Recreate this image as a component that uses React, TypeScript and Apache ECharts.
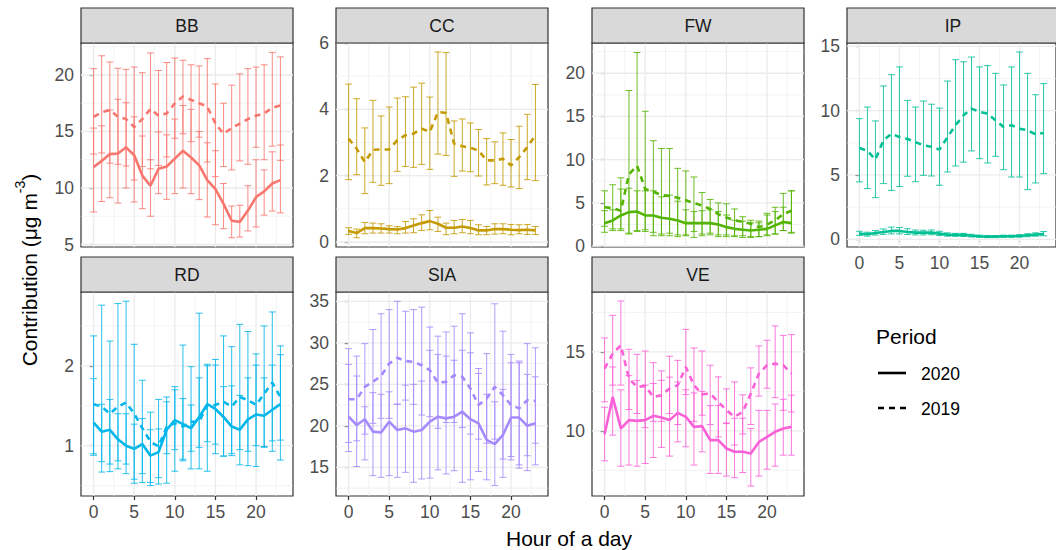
import React, { useEffect, useRef } from "react";
import * as echarts from "echarts";

// ---------- data ----------
const HOURS = [0, 1, 2, 3, 4, 5, 6, 7, 8, 9, 10, 11, 12, 13, 14, 15, 16, 17, 18, 19, 20, 21, 22, 23];
const X_TICKS = [0, 5, 10, 15, 20];
const X_MINOR = [2.5, 7.5, 12.5, 17.5, 22.5];

// BB
const BB_2020 = [11.86, 12.4, 13.0, 13.05, 13.6, 12.9, 11.1, 10.2, 11.7, 11.9, 12.6, 13.3, 12.7, 12.0, 10.7, 9.9, 8.6, 7.1, 7.0, 8.0, 9.2, 9.7, 10.4, 10.7];
const BB_2020_LO = [7.88, 8.8, 9.14, 8.67, 10.0, 8.76, 8.17, 7.5, 9.5, 9.0, 9.5, 10.0, 9.5, 8.97, 7.43, 6.75, 6.4, 5.6, 5.66, 6.2, 6.55, 7.6, 7.96, 7.8];
const BB_2020_HI = [15.3, 15.5, 16.9, 17.85, 17.55, 16.3, 14.6, 12.5, 14.96, 14.7, 16.1, 17.3, 16.96, 15.0, 14.0, 13.3, 10.4, 8.4, 8.47, 10.2, 12.5, 11.6, 13.2, 13.8];
const BB_2019 = [16.3, 16.7, 16.9, 16.3, 16.1, 15.4, 16.1, 17.0, 16.4, 16.6, 17.5, 18.1, 17.8, 17.5, 17.2, 15.7, 14.8, 15.3, 15.7, 16.1, 16.4, 16.6, 17.1, 17.3];
const BB_2019_LO = [13.0, 13.1, 12.2, 12.1, 11.95, 10.7, 11.9, 11.7, 12.0, 12.75, 14.4, 14.8, 14.1, 14.5, 12.3, 11.0, 11.9, 11.6, 12.4, 12.1, 13.6, 12.5, 13.7, 12.45];
const BB_2019_HI = [20.56, 21.7, 21.15, 20.6, 20.5, 20.7, 20.2, 21.95, 20.4, 21.1, 21.5, 21.3, 20.9, 20.8, 21.45, 19.2, 17.5, 19.1, 20.1, 20.56, 20.7, 20.9, 22.0, 21.6];

// CC
const CC_2020 = [0.33, 0.27, 0.42, 0.42, 0.41, 0.39, 0.38, 0.42, 0.5, 0.57, 0.63, 0.55, 0.43, 0.43, 0.47, 0.42, 0.35, 0.35, 0.39, 0.39, 0.37, 0.36, 0.37, 0.35];
const CC_2020_LO = [0.23, 0.13, 0.25, 0.27, 0.27, 0.27, 0.25, 0.27, 0.28, 0.35, 0.37, 0.32, 0.22, 0.25, 0.28, 0.25, 0.22, 0.22, 0.24, 0.25, 0.22, 0.25, 0.23, 0.23];
const CC_2020_HI = [0.43, 0.39, 0.59, 0.57, 0.55, 0.49, 0.47, 0.62, 0.7, 0.82, 0.95, 0.75, 0.57, 0.65, 0.68, 0.65, 0.52, 0.47, 0.55, 0.55, 0.53, 0.52, 0.53, 0.47];
const CC_2019 = [3.12, 2.81, 2.41, 2.78, 2.79, 2.79, 3.07, 3.22, 3.27, 3.42, 3.32, 3.92, 3.89, 2.96, 2.89, 2.84, 2.76, 2.46, 2.46, 2.51, 2.31, 2.56, 2.86, 3.22];
const CC_2019_LO = [1.88, 2.03, 1.46, 1.8, 1.71, 1.76, 2.13, 2.28, 2.25, 2.34, 2.19, 2.65, 2.61, 1.98, 2.14, 2.12, 1.99, 1.72, 1.76, 1.71, 1.66, 1.61, 1.88, 1.85];
const CC_2019_HI = [4.76, 4.32, 3.44, 4.27, 3.8, 4.07, 4.34, 4.38, 4.67, 4.79, 4.37, 5.73, 5.71, 3.65, 3.71, 3.59, 3.39, 3.12, 3.02, 3.29, 3.09, 3.49, 3.85, 4.75];

// FW
const FW_2020 = [2.66, 2.97, 3.55, 3.93, 4.0, 3.55, 3.55, 3.28, 3.16, 2.97, 2.66, 2.66, 2.66, 2.66, 2.5, 2.2, 2.0, 1.9, 1.8, 1.9, 2.0, 2.4, 2.8, 2.66];
const FW_2020_LO = [1.6, 1.8, 2.0, 1.5, 1.7, 1.9, 1.2, 1.2, 1.2, 1.1, 1.3, 1.0, 1.2, 1.3, 1.1, 1.1, 1.1, 1.0, 1.0, 1.1, 1.2, 1.4, 1.8, 1.5];
const FW_2020_HI = [4.1, 4.2, 6.6, 6.7, 6.4, 6.4, 6.4, 5.7, 5.9, 5.2, 4.2, 4.0, 4.1, 4.2, 4.0, 3.6, 3.0, 2.9, 2.7, 2.7, 3.6, 4.0, 4.5, 6.4];
const FW_2019 = [4.5, 4.4, 4.1, 8.3, 9.3, 6.6, 6.3, 5.9, 5.8, 5.6, 5.3, 5.0, 4.7, 4.3, 3.7, 3.3, 3.0, 2.8, 2.6, 2.2, 2.5, 3.0, 3.7, 4.1];
const FW_2019_LO = [2.3, 2.0, 1.8, 1.4, 1.8, 1.7, 1.6, 1.4, 1.5, 1.3, 1.2, 1.7, 1.4, 1.5, 1.3, 1.3, 1.2, 1.2, 1.1, 1.1, 1.3, 1.4, 1.8, 1.6];
const FW_2019_HI = [6.4, 7.1, 7.9, 18.0, 22.4, 15.6, 12.2, 11.3, 11.3, 9.0, 8.7, 8.0, 6.2, 5.4, 5.0, 4.9, 4.3, 3.4, 3.0, 2.9, 3.8, 4.5, 6.1, 6.4];

// IP
const IP_2020 = [0.44, 0.39, 0.49, 0.57, 0.65, 0.65, 0.57, 0.52, 0.52, 0.52, 0.44, 0.36, 0.34, 0.34, 0.28, 0.23, 0.21, 0.21, 0.23, 0.23, 0.26, 0.31, 0.36, 0.41];
const IP_2020_LO = [0.3, 0.25, 0.33, 0.38, 0.42, 0.42, 0.37, 0.34, 0.34, 0.35, 0.29, 0.24, 0.23, 0.22, 0.18, 0.15, 0.13, 0.13, 0.15, 0.15, 0.17, 0.2, 0.24, 0.27];
const IP_2020_HI = [0.62, 0.55, 0.68, 0.8, 0.95, 0.92, 0.82, 0.72, 0.7, 0.72, 0.62, 0.5, 0.46, 0.46, 0.39, 0.32, 0.29, 0.29, 0.32, 0.32, 0.36, 0.43, 0.5, 0.6];
const IP_2019 = [7.1, 6.87, 6.2, 7.7, 8.2, 7.95, 7.8, 7.56, 7.3, 7.2, 6.97, 7.95, 8.86, 9.64, 10.16, 9.9, 9.77, 9.25, 8.73, 8.86, 8.6, 8.47, 8.16, 8.26];
const IP_2019_LO = [4.46, 3.94, 3.24, 4.33, 3.8, 4.1, 4.9, 4.48, 4.97, 4.92, 4.2, 5.23, 5.7, 6.0, 6.87, 6.27, 5.93, 6.45, 5.41, 4.84, 4.84, 3.86, 4.38, 5.1];
const IP_2019_HI = [9.38, 10.28, 9.2, 11.92, 12.8, 13.4, 10.8, 10.28, 10.75, 10.5, 10.2, 12.3, 13.96, 13.8, 14.17, 13.4, 13.5, 12.9, 12.0, 13.4, 14.56, 12.9, 11.24, 12.1];

// RD
const RD_2020 = [1.29, 1.175, 1.2, 1.08, 1.0, 0.96, 1.02, 0.875, 0.92, 1.2, 1.32, 1.27, 1.22, 1.36, 1.52, 1.46, 1.36, 1.24, 1.2, 1.33, 1.39, 1.375, 1.45, 1.52];
const RD_2020_LO = [0.9, 0.8, 0.77, 0.81, 0.77, 0.58, 0.65, 0.54, 0.6, 0.9, 0.95, 0.83, 0.93, 0.98, 1.05, 1.02, 0.87, 0.9, 0.95, 0.93, 1.0, 0.99, 1.06, 1.07];
const RD_2020_HI = [1.84, 1.52, 1.58, 1.4, 1.4, 1.27, 1.34, 1.2, 1.21, 1.55, 1.7, 1.59, 1.51, 1.85, 2.0, 2.01, 1.74, 1.75, 1.63, 1.85, 2.01, 1.85, 2.01, 2.14];
const RD_2019 = [1.52, 1.49, 1.4, 1.49, 1.54, 1.4, 1.22, 1.05, 0.99, 1.24, 1.28, 1.24, 1.3, 1.3, 1.51, 1.51, 1.55, 1.49, 1.61, 1.57, 1.51, 1.65, 1.79, 1.61];
const RD_2019_LO = [0.88, 0.67, 0.675, 0.71, 0.65, 0.53, 0.54, 0.5, 0.52, 0.53, 0.68, 0.81, 0.71, 0.71, 0.68, 0.9, 0.87, 0.875, 0.76, 0.75, 0.74, 0.98, 0.93, 0.82];
const RD_2019_HI = [2.375, 2.76, 2.31, 2.78, 2.81, 2.27, 1.82, 1.42, 1.58, 1.61, 1.74, 2.26, 1.99, 2.66, 2.02, 2.08, 2.375, 2.24, 2.52, 2.43, 2.15, 2.5, 2.675, 2.25];

// SIA
const SIA_2020 = [21.1, 20.1, 20.8, 19.3, 19.2, 20.5, 19.5, 19.7, 19.3, 19.5, 20.5, 21.1, 20.9, 21.1, 21.7, 20.8, 20.3, 18.3, 17.8, 18.9, 21.0, 21.0, 20.0, 20.3];
const SIA_2020_LO = [16.9, 15.1, 15.9, 14.0, 13.8, 14.0, 13.8, 14.4, 13.2, 13.6, 13.7, 14.7, 14.2, 14.6, 13.2, 13.5, 14.5, 13.5, 12.8, 13.8, 15.9, 14.9, 14.6, 15.3];
const SIA_2020_HI = [27.4, 26.0, 22.3, 24.0, 23.8, 24.1, 22.6, 24.9, 25.0, 25.4, 29.1, 28.6, 28.4, 27.9, 29.1, 28.8, 26.3, 23.8, 22.9, 24.4, 27.6, 27.6, 26.2, 25.9];
const SIA_2019 = [23.2, 23.2, 24.7, 25.3, 26.0, 27.5, 28.2, 27.8, 27.7, 27.3, 26.7, 25.2, 25.3, 26.1, 25.9, 24.5, 22.5, 23.3, 24.7, 23.7, 22.5, 22.1, 23.1, 23.0];
const SIA_2019_LO = [18.0, 18.2, 19.0, 20.3, 20.9, 20.9, 22.6, 23.1, 22.6, 21.3, 21.1, 19.7, 20.4, 20.4, 19.8, 19.0, 18.4, 17.9, 18.4, 16.0, 16.3, 15.3, 16.4, 17.9];
const SIA_2019_HI = [29.3, 28.4, 29.9, 31.6, 33.5, 34.0, 35.0, 33.8, 34.0, 34.3, 31.9, 30.8, 31.3, 32.0, 33.5, 31.2, 26.9, 28.7, 34.7, 31.4, 28.6, 27.8, 29.9, 29.4];

// VE
const VE_2020 = [9.79, 12.15, 10.15, 10.68, 10.63, 10.68, 10.95, 10.84, 10.68, 11.14, 10.89, 10.25, 10.3, 9.41, 9.41, 8.88, 8.67, 8.67, 8.57, 9.3, 9.62, 9.94, 10.15, 10.25];
const VE_2020_LO = [8.1, 9.73, 7.76, 7.83, 7.76, 7.93, 8.31, 8.95, 8.4, 9.3, 8.99, 7.83, 8.67, 7.3, 7.3, 7.13, 7.03, 7.36, 6.5, 7.13, 7.57, 7.76, 8.46, 8.46];
const VE_2020_HI = [11.5, 14.05, 12.6, 13.5, 13.2, 12.9, 13.0, 13.2, 13.4, 13.1, 12.6, 12.4, 12.5, 11.6, 11.6, 10.5, 10.8, 10.8, 10.15, 11.3, 11.3, 11.7, 12.0, 12.26];
const VE_2019 = [13.95, 14.9, 15.42, 13.31, 12.78, 12.85, 12.15, 12.26, 12.68, 12.89, 14.05, 12.89, 12.32, 12.36, 11.84, 11.31, 10.89, 11.2, 12.36, 13.63, 14.16, 14.26, 14.16, 13.63];
const VE_2019_LO = [11.84, 12.9, 12.9, 11.35, 11.1, 10.2, 10.6, 10.6, 11.1, 10.4, 12.3, 10.6, 10.99, 10.4, 9.62, 10.46, 9.1, 9.8, 10.4, 12.2, 12.7, 12.1, 11.3, 11.2];
const VE_2019_HI = [15.89, 17.32, 18.23, 15.17, 14.85, 15.06, 14.32, 13.8, 14.73, 14.47, 16.43, 15.25, 15.06, 14.16, 13.42, 12.66, 13.1, 12.28, 13.99, 15.38, 15.74, 16.65, 16.05, 16.1];

const PERIODS = ["2020", "2019"];

// ---------- layout / style ----------
const FONT = "'Liberation Sans', Arial, Helvetica, sans-serif";
const X_MIN = -1.55;
const X_MAX = 24.55;
const COL_LEFT = [81, 336, 592, 847];
const ROW_TOP = [43, 292];
const PANEL_W = 212;
const PANEL_H = 204;
const STRIP_H = 35;
const TICK_FS = 17.5;
const TITLE_FS = 21;

type Panel = {
  name: string; color: string;
  m20: number[]; lo20: number[]; hi20: number[];
  m19: number[]; lo19: number[]; hi19: number[];
  yMin: number; yMax: number; yTicks: number[]; yMinor: number[];
  col: number; row: number; showX: boolean;
};

const PANELS: Panel[] = [
  { name: "BB", color: "#F8766D", m20: BB_2020, lo20: BB_2020_LO, hi20: BB_2020_HI, m19: BB_2019, lo19: BB_2019_LO, hi19: BB_2019_HI,
    yMin: 4.78, yMax: 22.83, yTicks: [5, 10, 15, 20], yMinor: [7.5, 12.5, 17.5, 22.5], col: 0, row: 0, showX: false },
  { name: "CC", color: "#C49A00", m20: CC_2020, lo20: CC_2020_LO, hi20: CC_2020_HI, m19: CC_2019, lo19: CC_2019_LO, hi19: CC_2019_HI,
    yMin: -0.15, yMax: 6.0, yTicks: [0, 2, 4, 6], yMinor: [1, 3, 5], col: 1, row: 0, showX: false },
  { name: "FW", color: "#53B400", m20: FW_2020, lo20: FW_2020_LO, hi20: FW_2020_HI, m19: FW_2019, lo19: FW_2019_LO, hi19: FW_2019_HI,
    yMin: -0.1, yMax: 23.5, yTicks: [0, 5, 10, 15, 20], yMinor: [2.5, 7.5, 12.5, 17.5, 22.5], col: 2, row: 0, showX: false },
  { name: "IP", color: "#00C094", m20: IP_2020, lo20: IP_2020_LO, hi20: IP_2020_HI, m19: IP_2019, lo19: IP_2019_LO, hi19: IP_2019_HI,
    yMin: -0.6, yMax: 15.26, yTicks: [0, 5, 10, 15], yMinor: [2.5, 7.5, 12.5], col: 3, row: 0, showX: true },
  { name: "RD", color: "#00B6EB", m20: RD_2020, lo20: RD_2020_LO, hi20: RD_2020_HI, m19: RD_2019, lo19: RD_2019_LO, hi19: RD_2019_HI,
    yMin: 0.37, yMax: 2.925, yTicks: [1, 2], yMinor: [0.5, 1.5, 2.5], col: 0, row: 1, showX: true },
  { name: "SIA", color: "#A58AFF", m20: SIA_2020, lo20: SIA_2020_LO, hi20: SIA_2020_HI, m19: SIA_2019, lo19: SIA_2019_LO, hi19: SIA_2019_HI,
    yMin: 11.55, yMax: 36.12, yTicks: [15, 20, 25, 30, 35], yMinor: [12.5, 17.5, 22.5, 27.5, 32.5], col: 1, row: 1, showX: true },
  { name: "VE", color: "#FB61D7", m20: VE_2020, lo20: VE_2020_LO, hi20: VE_2020_HI, m19: VE_2019, lo19: VE_2019_LO, hi19: VE_2019_HI,
    yMin: 5.87, yMax: 18.8, yTicks: [10, 15], yMinor: [7.5, 12.5, 17.5], col: 2, row: 1, showX: true },
];

function gridRender(params: any, api: any) {
  const cs = params.coordSys;
  const p = api.coord([api.value(0), api.value(1)]);
  const major = api.value(3) === 1;
  const style = { stroke: "#EBEBEB", lineWidth: major ? 1.3 : 0.6 };
  if (api.value(2) === 0) {
    return { type: "line", shape: { x1: p[0], y1: cs.y, x2: p[0], y2: cs.y + cs.height }, style };
  }
  return { type: "line", shape: { x1: cs.x, y1: p[1], x2: cs.x + cs.width, y2: p[1] }, style };
}

function makeErrRender(color: string) {
  return (params: any, api: any) => {
    const x = api.value(0);
    const lo = api.value(1);
    const hi = api.value(2);
    const top = api.coord([x, hi]);
    const bot = api.coord([x, lo]);
    const hw = api.size([0.42, 0])[0];
    const style = { stroke: color, lineWidth: 1, opacity: 0.85 };
    return {
      type: "group",
      children: [
        { type: "line", shape: { x1: top[0], y1: top[1], x2: bot[0], y2: bot[1] }, style },
        { type: "line", shape: { x1: top[0] - hw, y1: top[1], x2: top[0] + hw, y2: top[1] }, style },
        { type: "line", shape: { x1: bot[0] - hw, y1: bot[1], x2: bot[0] + hw, y2: bot[1] }, style },
      ],
    };
  };
}

function buildOption() {
  const grid: any[] = [];
  const xAxis: any[] = [];
  const yAxis: any[] = [];
  const series: any[] = [];
  const graphic: any[] = [];

  PANELS.forEach((p, i) => {
    const left = COL_LEFT[p.col];
    const top = ROW_TOP[p.row];
    grid.push({ left, top, width: PANEL_W, height: PANEL_H, show: true, borderColor: "#333333", borderWidth: 1.2, backgroundColor: "#FFFFFF" });
    xAxis.push({
      gridIndex: i, type: "value", min: X_MIN, max: X_MAX,
      splitLine: { show: false }, axisLine: { show: false },
      axisTick: { show: p.showX, length: 4, lineStyle: { color: "#333333", width: 1.2 }, customValues: X_TICKS },
      axisLabel: { show: p.showX, customValues: X_TICKS, color: "#4D4D4D", fontSize: TICK_FS, fontFamily: FONT, margin: 7 },
    });
    yAxis.push({
      gridIndex: i, type: "value", min: p.yMin, max: p.yMax,
      splitLine: { show: false }, axisLine: { show: false },
      axisTick: { show: true, length: 4, lineStyle: { color: "#333333", width: 1.2 }, customValues: p.yTicks },
      axisLabel: { customValues: p.yTicks, color: "#4D4D4D", fontSize: TICK_FS, fontFamily: FONT, margin: 7 },
    });

    const gridData = [
      ...X_TICKS.map((v) => [v, p.yMin, 0, 1]),
      ...X_MINOR.map((v) => [v, p.yMin, 0, 0]),
      ...p.yTicks.map((v) => [X_MIN, v, 1, 1]),
      ...p.yMinor.map((v) => [X_MIN, v, 1, 0]),
    ];
    series.push({ type: "custom", xAxisIndex: i, yAxisIndex: i, z: 1, silent: true, clip: true, data: gridData, renderItem: gridRender });

    series.push({
      type: "custom", name: PERIODS[1], xAxisIndex: i, yAxisIndex: i, z: 3, silent: true, clip: true,
      encode: { x: 0, y: [1, 2] },
      data: HOURS.map((h, k) => [h, p.lo19[k], p.hi19[k]]),
      renderItem: makeErrRender(p.color),
    });
    series.push({
      type: "custom", name: PERIODS[0], xAxisIndex: i, yAxisIndex: i, z: 3, silent: true, clip: true,
      encode: { x: 0, y: [1, 2] },
      data: HOURS.map((h, k) => [h, p.lo20[k], p.hi20[k]]),
      renderItem: makeErrRender(p.color),
    });
    series.push({
      type: "line", name: PERIODS[1], xAxisIndex: i, yAxisIndex: i, z: 4, silent: true,
      data: HOURS.map((h, k) => [h, p.m19[k]]),
      showSymbol: false, symbol: "none",
      lineStyle: { color: p.color, width: 2.6, type: [6, 5] },
    });
    series.push({
      type: "line", name: PERIODS[0], xAxisIndex: i, yAxisIndex: i, z: 4, silent: true,
      data: HOURS.map((h, k) => [h, p.m20[k]]),
      showSymbol: false, symbol: "none",
      lineStyle: { color: p.color, width: 2.6, type: "solid" },
    });

    // strip
    graphic.push({
      type: "rect", z: 10,
      shape: { x: left, y: top - STRIP_H, width: PANEL_W, height: STRIP_H },
      style: { fill: "#D9D9D9", stroke: "#333333", lineWidth: 1.2 },
    });
    graphic.push({
      type: "text", z: 11, x: left + PANEL_W / 2, y: top - STRIP_H / 2,
      style: { text: p.name, fill: "#1A1A1A", fontSize: TICK_FS, fontFamily: FONT, align: "center", verticalAlign: "middle", textAlign: "center", textVerticalAlign: "middle" },
    });
  });

  // axis titles
  graphic.push({
    type: "text", x: 569, y: 538,
    style: { text: "Hour of a day", fill: "#000000", fontSize: TITLE_FS, fontFamily: FONT, align: "center", verticalAlign: "middle", textAlign: "center", textVerticalAlign: "middle" },
  });
  graphic.push({
    type: "text", x: 26, y: 270, rotation: Math.PI / 2,
    style: {
      text: "{n|Contribution (μg m}{s|-3}{n|)}",
      rich: {
        n: { fontSize: TITLE_FS, fontFamily: FONT, fill: "#000000", verticalAlign: "bottom", lineHeight: 27 },
        s: { fontSize: 14, fontFamily: FONT, fill: "#000000", verticalAlign: "top", lineHeight: 27 },
      },
      align: "center", verticalAlign: "middle", textAlign: "center", textVerticalAlign: "middle",
    },
  });

  // legend
  graphic.push({
    type: "text", x: 876, y: 336,
    style: { text: "Period", fill: "#000000", fontSize: TITLE_FS, fontFamily: FONT, align: "left", verticalAlign: "middle", textAlign: "left", textVerticalAlign: "middle" },
  });
  graphic.push({ type: "line", shape: { x1: 878, y1: 373, x2: 906, y2: 373 }, style: { stroke: "#000000", lineWidth: 2.6 } });
  graphic.push({ type: "line", shape: { x1: 878, y1: 408, x2: 907, y2: 408 }, style: { stroke: "#000000", lineWidth: 2.6, lineDash: [6, 5] } });
  graphic.push({
    type: "text", x: 921, y: 374,
    style: { text: PERIODS[0], fill: "#000000", fontSize: TICK_FS, fontFamily: FONT, align: "left", verticalAlign: "middle", textAlign: "left", textVerticalAlign: "middle" },
  });
  graphic.push({
    type: "text", x: 921, y: 409,
    style: { text: PERIODS[1], fill: "#000000", fontSize: TICK_FS, fontFamily: FONT, align: "left", verticalAlign: "middle", textAlign: "left", textVerticalAlign: "middle" },
  });

  return {
    animation: false,
    backgroundColor: "#FFFFFF",
    textStyle: { fontFamily: FONT },
    grid, xAxis, yAxis, series, graphic,
  };
}

export default function App() {
  const ref = useRef<HTMLDivElement>(null);
  useEffect(() => {
    if (!ref.current) return;
    const chart = echarts.init(ref.current, null, { renderer: "svg" });
    chart.setOption(buildOption() as any);
    return () => chart.dispose();
  }, []);
  return <div ref={ref} style={{ position: "absolute", left: 0, top: 0, width: 1056, height: 550 }} />;
}
